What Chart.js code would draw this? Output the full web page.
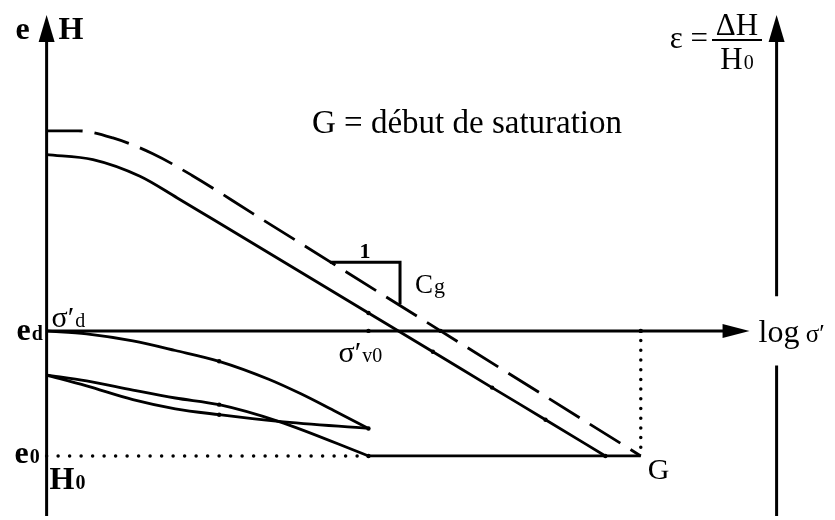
<!DOCTYPE html>
<html>
<head>
<meta charset="utf-8">
<title>e - log σ′</title>
<script src="https://cdn.jsdelivr.net/npm/chart.js@4/dist/chart.umd.min.js"></script>
<style>
  html, body { margin: 0; padding: 0; background: #fff; }
  #wrap { width: 835px; height: 520px; }
</style>
</head>
<body>
<div id="wrap"><canvas id="myChart" width="835" height="520"></canvas></div>
<script>
/* e (H) against log sigma' - compaction / saturation paths */

// virgin line (solid) and the line that ends at G (dashed)
const virginX = [0, 0.72, 1.45, 2.03, 2.57, 5, 6, 6.92, 7.75, 8.68];
const virginE = [7.23, 7.11, 6.71, 6.19, 5.69, 3.43, 2.50, 1.64, 0.87, 0];
const satX = [0, 0.49, 1.03, 1.65, 2.26, 3.2, 9.23];
const satE = [7.80, 7.80, 7.63, 7.25, 6.73, 5.82, 0];

// loading from e_d, unloading, reloading down to e0
const loadX = [0, 0.62, 1.34, 2.0, 2.68, 3.45, 3.95, 4.46, 5];
const loadE = [3, 2.93, 2.76, 2.53, 2.27, 1.84, 1.49, 1.09, 0.66];
const unloadX = [0, 0.62, 1.34, 2.0, 2.68, 3.6, 5];
const unloadE = [1.94, 1.68, 1.35, 1.13, 0.99, 0.83, 0.66];
const reloadX = [0, 0.62, 1.34, 2.0, 2.68, 3.6, 5];
const reloadE = [1.94, 1.80, 1.58, 1.39, 1.23, 0.83, 0];

// slope triangle (1 : Cg)
const slopeX = [4.4, 5.49, 5.49];
const slopeE = [4.65, 4.65, 3.64];

// small marks along the paths
const markX = [5, 6.12, 9.23, 5, 6, 6.92, 7.75, 8.68, 2.68, 2.68, 2.68, 5, 5];
const markE = [3, 3, 3, 3.43, 2.50, 1.64, 0.87, 0, 2.27, 1.23, 0.99, 0.66, 0];

// reference levels
const eD = 3, e0 = 0;
const sigmaV0 = 5, sigmaG = 9.23;
const bottomE = -1.44, axisTopE = 10.58, axisEndX = 10.92, rightAxisX = 11.34;
const gapLowE = 2.17, gapHighE = 3.83;

function zip(xs, ys) {
  return xs.map(function(x, i) { return { x: x, y: ys[i] }; });
}

function line(data, extra) {
  return Object.assign({
    data: data,
    showLine: true,
    borderColor: '#000',
    backgroundColor: '#000',
    borderWidth: 2.8,
    pointRadius: 0,
    tension: 0
  }, extra || {});
}

const serif = '"Liberation Serif", "Times New Roman", serif';

// arrowheads and all the lettering
const drawExtras = {
  id: 'drawExtras',
  afterDatasetsDraw: function(chart) {
    const ctx = chart.ctx;
    const X = function(v) { return chart.scales.x.getPixelForValue(v); };
    const Y = function(v) { return chart.scales.y.getPixelForValue(v); };

    function arrowUp(x, tipY) {
      ctx.beginPath();
      ctx.moveTo(x, tipY);
      ctx.lineTo(x - 8, tipY + 27);
      ctx.lineTo(x + 8, tipY + 27);
      ctx.closePath();
      ctx.fill();
    }
    ctx.save();
    ctx.fillStyle = '#000';
    arrowUp(X(0), Y(axisTopE));
    arrowUp(X(rightAxisX), Y(axisTopE));
    const tipX = X(axisEndX), ay = Y(eD);
    ctx.beginPath();
    ctx.moveTo(tipX, ay);
    ctx.lineTo(tipX - 27, ay - 7);
    ctx.lineTo(tipX - 27, ay + 7);
    ctx.closePath();
    ctx.fill();

    ctx.textBaseline = 'alphabetic';
    function txt(str, x, y, size, bold, align) {
      ctx.font = (bold ? 'bold ' : '') + size + 'px ' + serif;
      ctx.textAlign = align || 'left';
      ctx.fillText(str, x, y);
      return x + ctx.measureText(str).width;
    }
    function withSub(str, sub, x, y, size, subSize, bold) {
      const end = txt(str, x, y, size, bold);
      return txt(sub, end + 1, y, subSize, bold);
    }

    const x0 = X(0), yd = Y(eD), yb = Y(e0), top = Y(axisTopE);
    txt('e', x0 - 31, top + 24, 32, true);
    txt('H', x0 + 12, top + 24, 32, true);

    withSub('e', 'd', x0 - 30, yd + 9, 32, 20, true);
    withSub('σ′', 'd', x0 + 5, yd - 4, 30, 20, false);
    withSub('e', '0', x0 - 32, yb + 7, 32, 20, true);
    withSub('H', '0', x0 + 3, yb + 33, 32, 20, true);
    withSub('σ′', 'v0', X(sigmaV0) - 30, yd + 31, 30, 20, false);
    txt('G', X(sigmaG) + 7, yb + 23, 30, false);

    txt('1', (X(slopeX[0]) + X(slopeX[1])) / 2, Y(slopeE[0]) - 4, 22, true, 'center');
    withSub('C', 'g', X(slopeX[1]) + 15, Y(slopeE[0]) + 31, 27, 22, false);

    const lx = txt('log', tipX + 9, yd + 11, 32, false);
    txt(' σ′', lx, yd + 11, 25, false);

    txt('G = début de saturation', 312, 133, 33, false);

    // epsilon = delta H / H0
    txt('ε =', 708, 48, 31, false, 'right');
    ctx.fillRect(712, 39, 50, 2);
    txt('ΔH', 737, 35, 31, false, 'center');
    ctx.font = '31px ' + serif;
    const hw = ctx.measureText('H').width;
    ctx.font = '20px ' + serif;
    const zw = ctx.measureText('0').width;
    withSub('H', '0', 737 - (hw + zw + 1) / 2, 69, 31, 20, false);
    ctx.restore();
  }
};

const ctx = document.getElementById('myChart').getContext('2d');
// eslint-disable-next-line no-undef
const chart = new Chart(ctx, {
  type: 'scatter',
  data: {
    datasets: [
      // axes
      line([{ x: 0, y: bottomE }, { x: 0, y: axisTopE - 0.5 }], { borderWidth: 3 }),
      line([{ x: rightAxisX, y: bottomE }, { x: rightAxisX, y: gapLowE }, { x: rightAxisX, y: null },
        { x: rightAxisX, y: gapHighE }, { x: rightAxisX, y: axisTopE - 0.5 }], { borderWidth: 3, spanGaps: false }),
      line([{ x: 0, y: eD }, { x: axisEndX - 0.35, y: eD }], { borderWidth: 3 }),
      // e0 and G levels
      line([{ x: 0, y: e0 }, { x: sigmaV0, y: e0 }], { borderWidth: 3.5, borderDash: [0, 11.5], borderCapStyle: 'round' }),
      line([{ x: sigmaG, y: eD }, { x: sigmaG, y: e0 }], { borderWidth: 3.5, borderDash: [0, 9.7], borderCapStyle: 'round' }),
      line([{ x: sigmaV0, y: e0 }, { x: sigmaG, y: e0 }]),
      // paths
      line(zip(virginX, virginE), { cubicInterpolationMode: 'monotone' }),
      line(zip(satX, satE), { cubicInterpolationMode: 'monotone', borderDash: [36, 12] }),
      line(zip(loadX, loadE), { cubicInterpolationMode: 'monotone' }),
      line(zip(unloadX, unloadE), { cubicInterpolationMode: 'monotone' }),
      line(zip(reloadX, reloadE), { cubicInterpolationMode: 'monotone' }),
      line(zip(slopeX, slopeE), { borderWidth: 3 }),
      { data: zip(markX, markE), showLine: false, pointRadius: 2.2, pointBackgroundColor: '#000', pointBorderWidth: 0 }
    ]
  },
  options: {
    responsive: false,
    animation: false,
    devicePixelRatio: 1,
    events: [],
    layout: { padding: 0 },
    scales: {
      x: { type: 'linear', display: false, min: -0.662, max: 12.185 },
      y: { type: 'linear', display: false, min: -1.441, max: 10.843 }
    },
    plugins: {
      legend: { display: false },
      tooltip: { enabled: false }
    }
  },
  plugins: [drawExtras]
});
</script>
</body>
</html>
